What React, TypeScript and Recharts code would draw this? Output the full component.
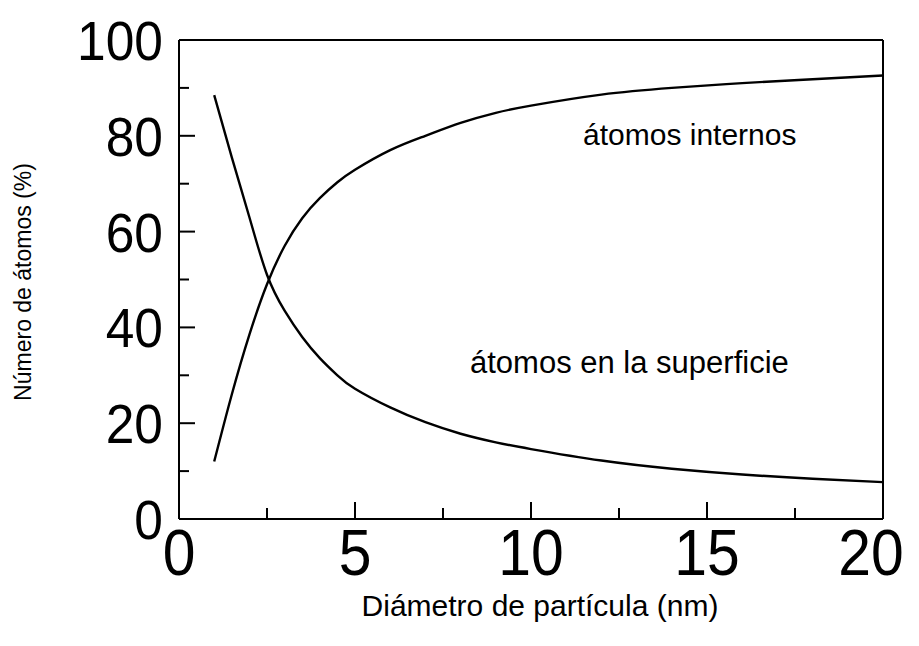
import { LineChart, Line, XAxis, YAxis } from "recharts";

const diameters = [1, 1.5, 2, 2.5, 3, 3.5, 4, 4.5, 5, 6, 7, 8, 9, 10, 12, 14, 16, 18, 20];
const surface = [88.5, 75.5, 63, 51, 43.5, 38, 33.6, 30, 27.2, 23.3, 20.2, 17.8, 16, 14.6, 12.2, 10.5, 9.3, 8.4, 7.7];
const internal = [12, 26, 38.5, 49, 57, 62.8, 67, 70.3, 72.9, 77, 80, 82.7, 84.8, 86.3, 88.6, 90, 91, 91.8, 92.6];

const xTicks = [0, 2.5, 5, 7.5, 10, 12.5, 15, 17.5, 20];
const yTicks = [0, 10, 20, 30, 40, 50, 60, 70, 80, 90, 100];

const data = diameters.map((d, i) => ({ d, surface: surface[i], internal: internal[i] }));

const FONT = "'Liberation Sans', Arial, sans-serif";

const YTick = (props: any) => {
  const { x, y, payload } = props;
  const major = payload.value % 20 === 0;
  return (
    <g>
      <line x1={x} x2={x + (major ? 16 : 10)} y1={y} y2={y} stroke="#000" strokeWidth={2} />
      {major && (
        <text
          transform={`translate(${x - 16},${y + 20}) scale(0.92,1)`}
          textAnchor="end"
          fontSize={56}
          fontFamily={FONT}
          fill="#000"
        >
          {payload.value}
        </text>
      )}
    </g>
  );
};

const XTick = (props: any) => {
  const { x, y, payload } = props;
  const major = payload.value % 5 === 0;
  // last label is pulled in so it stays inside the page
  const dx = payload.value === 20 ? -12 : 0;
  return (
    <g>
      <line x1={x} x2={x} y1={y} y2={y - (major ? 17 : 11)} stroke="#000" strokeWidth={2} />
      {major && (
        <text
          transform={`translate(${x + dx},${y + 56}) scale(0.92,1)`}
          textAnchor="middle"
          fontSize={64}
          fontFamily={FONT}
          fill="#000"
        >
          {payload.value}
        </text>
      )}
    </g>
  );
};

export default function App() {
  return (
    <LineChart
      width={903}
      height={630}
      data={data}
      margin={{ top: 31, right: 27, bottom: 118, left: 170 }}
    >
      <XAxis
        dataKey="d"
        type="number"
        domain={[0, 20]}
        ticks={xTicks}
        interval={0}
        height={1}
        tickSize={0}
        tickMargin={0}
        tick={(p: any) => <XTick {...p} />}
        axisLine={{ stroke: "#000", strokeWidth: 2 }}
        tickLine={false}
      />
      <XAxis
        xAxisId="top"
        orientation="top"
        type="number"
        domain={[0, 20]}
        height={1}
        tick={false}
        tickLine={false}
        axisLine={{ stroke: "#000", strokeWidth: 2 }}
      />
      <YAxis
        type="number"
        domain={[0, 100]}
        ticks={yTicks}
        interval={0}
        width={1}
        tickSize={0}
        tickMargin={0}
        tick={(p: any) => <YTick {...p} />}
        axisLine={{ stroke: "#000", strokeWidth: 2 }}
        tickLine={false}
      />
      <YAxis
        yAxisId="right"
        orientation="right"
        domain={[0, 100]}
        width={1}
        tick={false}
        tickLine={false}
        axisLine={{ stroke: "#000", strokeWidth: 2 }}
      />
      <Line
        type="natural"
        dataKey="surface"
        stroke="#000"
        strokeWidth={2.4}
        dot={false}
        isAnimationActive={false}
      />
      <Line
        type="natural"
        dataKey="internal"
        stroke="#000"
        strokeWidth={2.4}
        dot={false}
        isAnimationActive={false}
      />
      <text x={575} y={137} fontSize={30} fontFamily={FONT} fill="#000">
        átomos internos
      </text>
      <text x={462} y={365} fontSize={31} fontFamily={FONT} fill="#000">
        átomos en la superficie
      </text>
      <text x={532} y={608} textAnchor="middle" fontSize={30} fontFamily={FONT} fill="#000">
        Diámetro de partícula (nm)
      </text>
      <text
        x={23}
        y={274}
        textAnchor="middle"
        fontSize={23}
        fontFamily={FONT}
        fill="#000"
        transform="rotate(-90 23 274)"
      >
        Número de átomos (%)
      </text>
    </LineChart>
  );
}
